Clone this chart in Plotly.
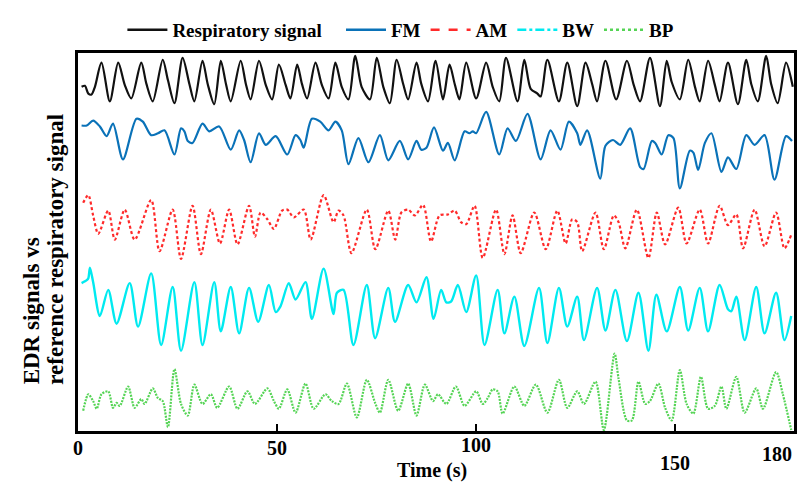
import plotly.graph_objects as go

# ---- data: (time s, amplitude) ----
resp_pts = [(0.9,-6),(1.75,-5),(2.6,-13),(3.4,-14),(4.25,-6),(5.9,19),(8.0,-21),(10.1,19),(11.75,-4),(13.4,-18),
            (15.9,19),(17.2,-3),(18.8,-21),(21.3,22),(22.6,1),(24.25,-23),(26.3,24),(28.0,-3),(29.25,-21),(31.3,21),
            (32.6,-3),(34.25,-24),(35.9,21),(37.2,-3),(38.4,-21),(40.9,21),(42.2,-3),(43.4,-19),(45.5,21),(47.2,-4),
            (48.8,-19),(50.5,17),(52.2,-4),(53.4,-18),(55.1,17),(56.3,-3),(57.6,-18),(59.7,19),(61.3,-4),(63.0,-18),
            (64.7,19),(66.3,-6),(68.0,-19),(69.7,26),(71.3,-6),(73.4,-19),(75.1,24),(76.75,-6),(78.4,-23),(80.1,22),
            (81.75,-3),(83.0,-19),(85.1,19),(86.3,-3),(88.0,-21),(89.9,21),(91.75,-19),(93.4,17),(94.7,-3),(95.9,-19),
            (97.6,19),(100.1,-18),(102.6,19),(104.25,-6),(105.9,-21),(107.6,24),(110.5,-21),(112.2,22),(113.8,-8),
            (115.5,-13),(116.3,-16),(118.0,22),(120.9,-21),(123.0,19),(125.5,-26),(127.6,19),(129.25,-3),(130.5,-21),
            (132.6,21),(135.3,-19),(138.0,21),(139.7,-4),(141.3,-21),(143.8,24),(146.3,-26),(148.0,21),(149.25,-1),
            (151.3,-19),(153.4,22),(155.1,-6),(156.3,-21),(158.4,21),(160.1,-4),(161.3,-21),(163.4,19),(165.9,-24),
            (168.0,22),(169.25,-3),(170.9,-21),(173.0,26),(174.25,-3),(175.9,-23),(178.0,19),(179.7,-6)]

fm_pts = [(0.9,13),(2.2,13),(3.8,18),(5.5,12),(7.2,2),(8.8,15),(11.3,-22),(14.7,20),(16.3,17),(18.4,3),(20.1,5),
          (21.75,8),(24.25,-17),(25.9,10),(26.75,7),(27.6,-3),(28.8,-5),(31.3,15),(33.0,7),(35.5,12),(38.4,-12),
          (40.5,8),(41.75,-2),(43.4,-25),(45.5,5),(47.2,-7),(49.7,2),(52.6,-17),(54.7,3),(55.9,-2),(56.75,-10),
          (58.8,20),(60.9,17),(63.0,8),(64.7,17),(66.3,8),(68.0,-27),(70.5,0),(73.0,-25),(75.9,3),(78.0,-23),
          (80.9,-3),(83.0,-22),(85.1,-3),(86.3,-12),(87.6,-10),(89.5,11),(91.75,-13),(93.0,-5),(94.7,-23),(97.2,7),
          (98.4,5),(99.25,7),(100.1,5),(102.6,27),(105.9,-17),(108.0,10),(110.1,-3),(113.0,25),(116.3,-22),
          (118.8,8),(121.3,-12),(123.4,17),(125.5,5),(126.3,-7),(128.0,8),(131.3,-42),(132.6,-8),(134.5,-2),
          (136.3,-7),(138.8,10),(141.3,-30),(142.2,-32),(144.25,-3),(145.1,-5),(146.75,-17),(148.4,3),(149.7,0),
          (151.3,-52),(153.8,-13),(154.7,-15),(155.9,-33),(157.6,-5),(159.25,5),(161.75,-35),(163.4,-20),
          (165.5,-32),(168.0,3),(170.1,-7),(172.6,3),(175.1,-43),(178.0,2),(179.5,-3)]

am_pts = [(1.3,20),(2.6,28),(3.8,7),(5.1,-12),(7.6,12),(9.25,-18),(11.75,13),(14.25,-18),(18.4,23),(20.5,-30),
          (23.8,13),(25.9,-38),(28.8,17),(30.9,-33),(33.4,13),(35.7,-22),(38.0,13),(40.1,-23),(43.0,17),(44.5,-15),
          (45.9,10),(47.6,3),(49.25,-7),(51.3,12),(52.6,13),(54.25,5),(56.75,13),(58.5,-18),(61.75,28),(64.25,0),
          (65.5,12),(66.75,7),(68.75,-32),(72.6,13),(74.75,-28),(78.0,12),(79.75,-18),(81.3,10),(83.0,13),(84.7,7),
          (86.75,18),(88.75,-20),(90.9,7),(93.0,8),(94.7,12),(96.3,0),(97.6,-2),(99.7,17),(101.75,-37),(105.1,13),
          (107.2,-33),(109.25,7),(111.3,-32),(114.7,10),(117.6,-28),(120.5,12),(122.6,-22),(124.25,3),(125.5,0),
          (126.75,-30),(130.1,10),(132.2,-28),(134.7,7),(135.9,0),(137.6,-27),(140.5,13),(143.4,-37),(145.5,10),
          (147.6,-23),(150.9,15),(153.0,-22),(156.3,13),(158.4,-22),(161.3,17),(163.4,-3),(165.5,8),(167.2,-27),
          (170.1,13),(172.6,-25),(175.5,10),(177.6,-27),(179.3,-13)]

bw_pts = [(0.9,22),(2.2,25),(2.6,27),(3.0,38),(3.8,23),(5.5,-12),(7.6,15),(9.7,-20),(13.0,22),(15.1,-23),(18.4,32),
          (20.9,-42),(23.8,18),(25.9,-48),(29.25,23),(31.3,-42),(34.25,23),(35.9,-28),(38.4,18),(40.5,-30),(43.0,17),
          (45.3,-18),(48.0,20),(49.7,-8),(50.9,-2),(53.0,22),(54.7,5),(57.2,23),(58.8,-15),(61.75,37),(64.25,-10),
          (65.1,12),(66.75,15),(69.25,-42),(72.6,20),(74.7,-35),(78.0,17),(79.7,-18),(83.0,20),(85.1,2),(87.6,28),
          (89.4,-15),(91.3,15),(92.6,2),(93.8,3),(95.5,20),(97.6,-8),(100.1,30),(102.2,-42),(105.5,15),(107.2,-30),
          (109.7,8),(112.2,-43),(115.9,17),(118.0,-40),(120.9,17),(123.0,-23),(125.5,8),(127.2,-37),(130.5,17),
          (132.6,-27),(135.1,15),(138.0,-38),(140.9,12),(143.4,-48),(145.4,10),(148.0,-28),(151.3,18),(153.4,-27),
          (156.3,17),(158.4,-28),(161.3,20),(163.4,-5),(164.25,-7),(165.5,8),(167.6,-37),(170.5,18),(172.6,-30),
          (175.5,12),(177.6,-37),(179.3,-12)]

bp_pts = [(1.3,-10),(2.6,7),(3.8,0),(4.7,-8),(5.9,7),(7.6,10),(8.8,-7),(9.7,-2),(10.5,-5),(12.6,15),(14.25,-7),
          (15.9,2),(16.75,-3),(18.8,13),(20.1,3),(21.3,0),(22.6,-27),(24.25,33),(25.9,-3),(27.6,-15),(29.25,17),
          (31.3,-3),(33.4,7),(35.0,-7),(38.0,15),(40.1,-8),(42.6,10),(44.5,-3),(47.6,13),(49.25,0),(50.5,-8),
          (52.6,12),(54.7,-12),(57.2,18),(59.25,-8),(62.2,7),(63.8,0),(65.5,-3),(67.6,18),(70.1,-17),(72.6,22),
          (74.7,-2),(75.9,-12),(78.0,22),(80.5,-10),(83.0,18),(85.1,-15),(87.2,17),(89.25,0),(90.5,7),(92.6,-3),
          (95.0,15),(97.2,-5),(100.1,10),(101.75,-3),(103.0,3),(104.25,12),(105.5,10),(106.75,-13),(109.7,15),
          (112.2,-5),(115.1,17),(118.0,-12),(120.9,22),(123.0,-7),(125.5,10),(127.2,-3),(130.1,20),(132.2,-30),
          (134.9,49),(135.9,23),(138.0,-20),(139.25,-20),(140.9,20),(142.6,-3),(143.8,0),(145.9,18),(147.6,-7),
          (149.25,-20),(151.3,32),(153.0,-3),(154.7,-13),(156.6,25),(158.4,-8),(160.1,-5),(161.75,15),(163.0,-8),
          (165.5,25),(167.6,-12),(170.5,13),(172.2,-8),(175.5,30),(177.2,7),(179.3,-30)]

series_names = ["Respiratory signal", "FM", "AM", "BW", "BP"]
series_offsets = [362, 303, 216, 131, 31]   # vertical stacking of the signals
x_tick_values = [0, 50, 100, 150, 180]
x_tick_labels = ["0", "50", "100", "150", "180"]

# ---- styling ----
colors = ["#111111", "#0a72b8", "#ff2a2a", "#00eaf0", "#55d455"]
dashes = ["solid", "solid", "3px,2.5px", "solid", "2px,1.2px"]
legend_dashes = ["solid", "solid", "dash", "dashdot", "dot"]
legend_pad = [3, 0, 0, 0, 0]
widths = [2.2, 2.2, 2.2, 2.4, 2.2]
NBSP = "\u00a0"

FONT = "Liberation Serif"
fig = go.Figure()
all_pts = [resp_pts, fm_pts, am_pts, bw_pts, bp_pts]
for pts, name, off, col, dsh, ldsh, w, pad in zip(all_pts, series_names, series_offsets, colors, dashes,
                                                  legend_dashes, widths, legend_pad):
    t = [p[0] for p in pts]
    v = [p[1] + off for p in pts]
    fig.add_trace(go.Scatter(x=t, y=v, mode="lines", name=name, showlegend=False,
                             line=dict(color=col, width=w, dash=dsh, shape="spline", smoothing=0.8)))
    # legend entry with the reference's legend line style
    fig.add_trace(go.Scatter(x=[None], y=[None], mode="lines", name=name + NBSP * pad, showlegend=True,
                             line=dict(color=col, width=2.4, dash=ldsh)))

fig.update_layout(
    width=808, height=490,
    margin=dict(l=78, r=11, t=40, b=59),
    plot_bgcolor="white", paper_bgcolor="white",
    font=dict(family=FONT, color="black", weight="bold"),
    legend=dict(orientation="h", x=0.062, xanchor="left", y=1.061, yanchor="middle",
                font=dict(family=FONT, size=19, weight="bold"), itemwidth=40,
                bgcolor="rgba(0,0,0,0)", tracegroupgap=0),
)
fig.update_xaxes(range=[0, 180], showline=True, mirror=True, linecolor="black", linewidth=2.5,
                 showgrid=False, zeroline=False, ticks="inside", tickvals=x_tick_values[1:4],
                 ticklen=7, tickwidth=2, tickcolor="black", showticklabels=False)
fig.update_yaxes(range=[0, 391], showline=True, mirror=True, linecolor="black", linewidth=2.5,
                 showgrid=False, zeroline=False, showticklabels=False, ticks="")

# tick labels (staggered as in the reference)
label_y = [-0.044, -0.044, -0.036, -0.084, -0.061]
label_anchor = ["center", "center", "center", "center", "right"]
for tv, tl, ly, xa in zip(x_tick_values, x_tick_labels, label_y, label_anchor):
    fig.add_annotation(x=tv, xref="x", y=ly, yref="paper", text=tl, showarrow=False,
                       xanchor=xa, yanchor="middle", font=dict(family=FONT, size=20, weight="bold"))

fig.add_annotation(x=0.495, xref="paper", y=-0.105, yref="paper", text="Time (s)", showarrow=False,
                   xanchor="center", yanchor="middle", font=dict(family=FONT, size=20, weight="bold"))
fig.add_annotation(x=-0.065, xref="paper", y=0.118, yref="paper", text="EDR signals vs", showarrow=False,
                   textangle=-90, xanchor="center", yanchor="bottom", font=dict(family=FONT, size=23, weight="bold"))
fig.add_annotation(x=-0.031, xref="paper", y=0.118, yref="paper", text="reference respiratory signal",
                   showarrow=False, textangle=-90, xanchor="center", yanchor="bottom",
                   font=dict(family=FONT, size=23, weight="bold"))

fig.write_html("out.html")
